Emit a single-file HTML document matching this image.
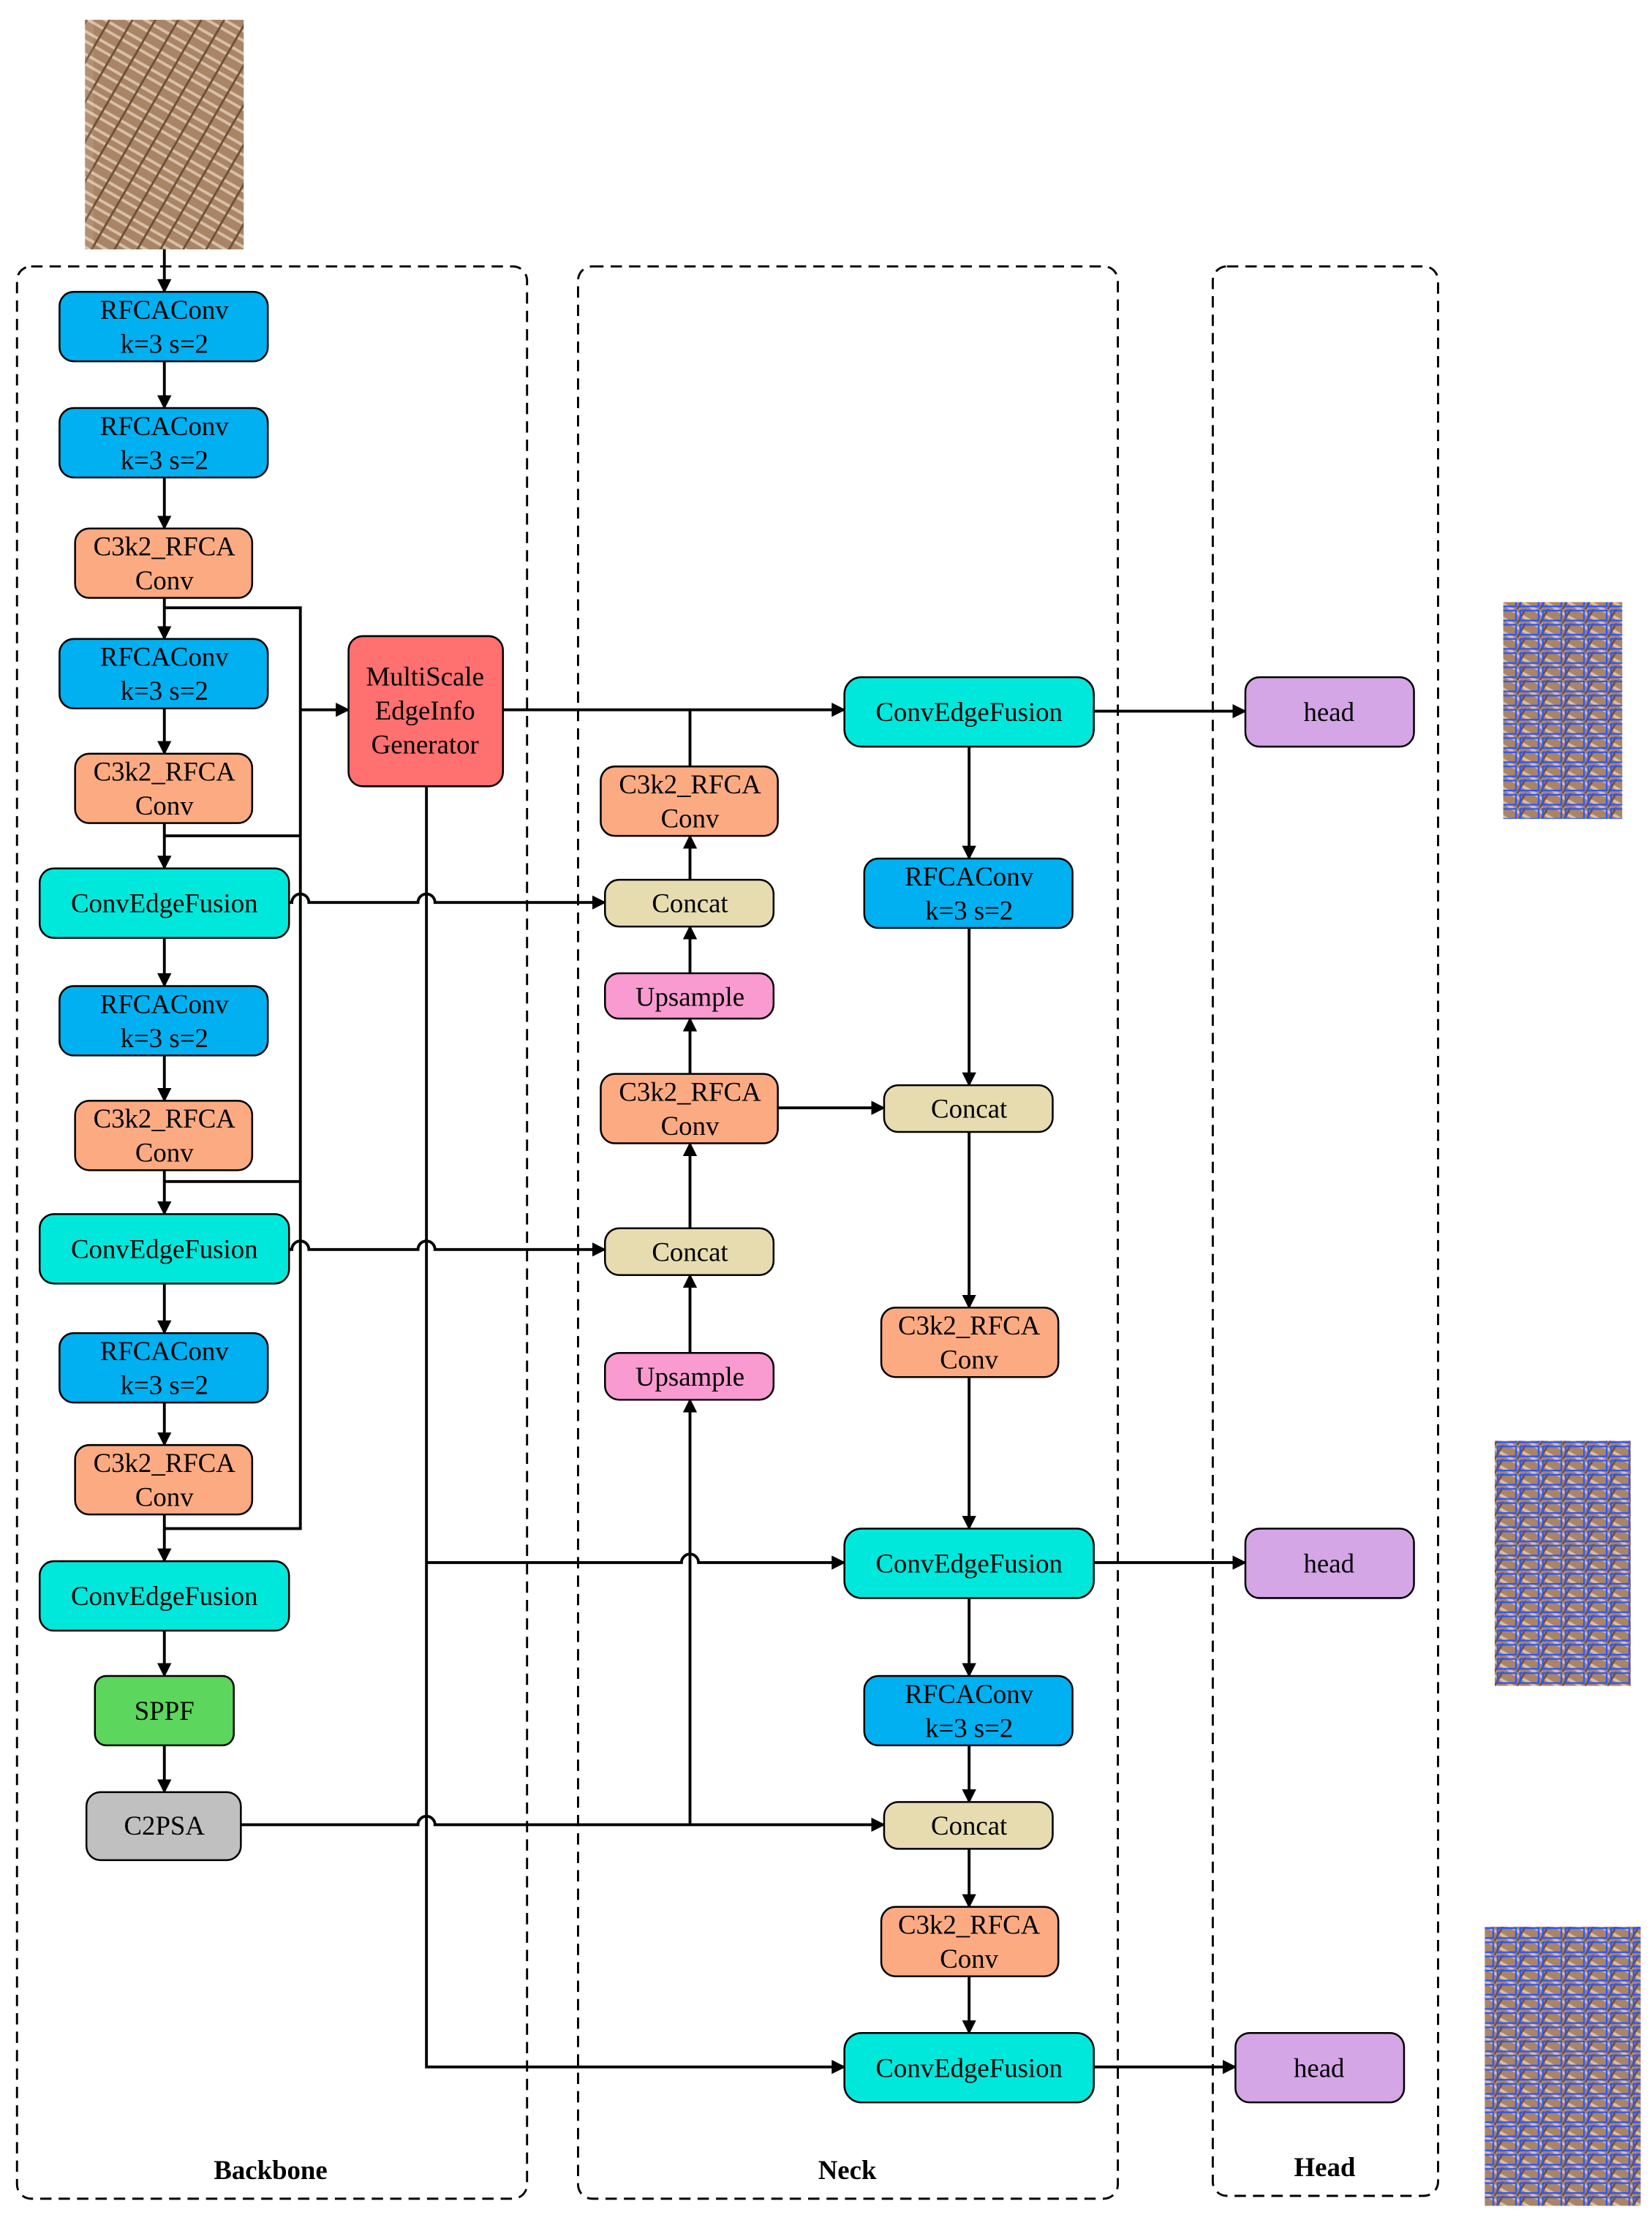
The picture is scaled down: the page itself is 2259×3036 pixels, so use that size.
<!DOCTYPE html>
<html><head><meta charset="utf-8"><style>
html,body{margin:0;padding:0;background:#fff}
svg{display:block}
text{font-family:"Liberation Serif",serif;font-size:19px;fill:#000}
</style></head><body>
<svg width="2259" height="3036" viewBox="0 0 1166 1567" xmlns="http://www.w3.org/2000/svg">
<defs>
<marker id="a" markerWidth="10" markerHeight="10" refX="9" refY="5" orient="auto" markerUnits="userSpaceOnUse"><path d="M0,0 L10,5 L0,10 z" fill="#000"/></marker>
<pattern id="straw" width="14" height="14" patternUnits="userSpaceOnUse" patternTransform="rotate(30)">
<rect width="14" height="14" fill="#a98466"/><path d="M0,3 H14 M0,9 H14" stroke="#d9c0a4" stroke-width="2"/><path d="M4,0 V14" stroke="#6e5038" stroke-width="1.5"/></pattern>
<pattern id="det" width="16" height="10" patternUnits="userSpaceOnUse">
<rect width="16" height="10" fill="url(#straw)"/><rect x="1" y="1" width="13" height="7" fill="none" stroke="#2a55ff" stroke-width="1.2"/></pattern>
</defs>
<!-- input image -->
<rect x="66" y="14" width="106" height="162" fill="url(#straw)"/>
<rect x="60" y="14" width="106" height="162" fill="url(#straw)" opacity="0.9"/>
<!-- output images -->
<rect x="1061" y="425" width="84" height="153" fill="url(#det)"/>
<rect x="1055" y="1017" width="96" height="173" fill="url(#det)"/>
<rect x="1048" y="1360" width="110" height="197" fill="url(#det)"/>
<!-- dashed boxes -->
<g fill="none" stroke="#000" stroke-width="1.5" stroke-dasharray="8,5">
<rect x="12" y="188" width="360" height="1364" rx="10"/>
<rect x="408" y="188" width="381" height="1364" rx="10"/>
<rect x="856" y="188" width="159" height="1362" rx="10"/>
</g>
<g font-weight="bold" text-anchor="middle">
<text x="191" y="1538" style="font-weight:bold">Backbone</text>
<text x="598" y="1538" style="font-weight:bold">Neck</text>
<text x="935" y="1536" style="font-weight:bold">Head</text>
</g>
<!-- connectors -->
<g fill="none" stroke="#000" stroke-width="2">
<path d="M116,176 V206" marker-end="url(#a)"/>
<path d="M116,255 V288" marker-end="url(#a)"/>
<path d="M116,337 V373" marker-end="url(#a)"/>
<path d="M116,422 V451" marker-end="url(#a)"/>
<path d="M116,500 V532" marker-end="url(#a)"/>
<path d="M116,581 V613" marker-end="url(#a)"/>
<path d="M116,662 V696" marker-end="url(#a)"/>
<path d="M116,745 V777" marker-end="url(#a)"/>
<path d="M116,826 V857" marker-end="url(#a)"/>
<path d="M116,906 V941" marker-end="url(#a)"/>
<path d="M116,990 V1020" marker-end="url(#a)"/>
<path d="M116,1069 V1102" marker-end="url(#a)"/>
<path d="M116,1151 V1183" marker-end="url(#a)"/>
<path d="M116,1232 V1265" marker-end="url(#a)"/>
<path d="M116,429 H212 V1079 H116"/>
<path d="M212,590 H116"/><path d="M212,834 H116"/>
<path d="M212,501 H246" marker-end="url(#a)"/>
<path d="M204,637 H206 a6,6 0 0 1 12,0 H295 a6,6 0 0 1 12,0 H427" marker-end="url(#a)"/>
<path d="M204,882 H206 a6,6 0 0 1 12,0 H295 a6,6 0 0 1 12,0 H427" marker-end="url(#a)"/>
<path d="M170,1288 H295 a6,6 0 0 1 12,0 H624" marker-end="url(#a)"/>
<path d="M487,1288 V988" marker-end="url(#a)"/>
<path d="M355,501 H596" marker-end="url(#a)"/>
<path d="M301,555 V1459 H596" marker-end="url(#a)"/>
<path d="M301,1103 H481 a6,6 0 0 1 12,0 H596" marker-end="url(#a)"/>
<path d="M487,541 V501"/>
<path d="M487,621 V590" marker-end="url(#a)"/>
<path d="M487,687 V654" marker-end="url(#a)"/>
<path d="M487,758 V719" marker-end="url(#a)"/>
<path d="M487,867 V807" marker-end="url(#a)"/>
<path d="M487,955 V900" marker-end="url(#a)"/>
<path d="M549,782 H624" marker-end="url(#a)"/>
<path d="M684,527 V606" marker-end="url(#a)"/>
<path d="M684,655 V766" marker-end="url(#a)"/>
<path d="M684,799 V923" marker-end="url(#a)"/>
<path d="M684,972 V1079" marker-end="url(#a)"/>
<path d="M684,1128 V1183" marker-end="url(#a)"/>
<path d="M684,1232 V1272" marker-end="url(#a)"/>
<path d="M684,1305 V1346" marker-end="url(#a)"/>
<path d="M684,1395 V1435" marker-end="url(#a)"/>
<path d="M772,502 H879" marker-end="url(#a)"/>
<path d="M772,1103 H879" marker-end="url(#a)"/>
<path d="M772,1459 H872" marker-end="url(#a)"/>
</g>
<!-- nodes -->
<g stroke="#000" stroke-width="1.3">
<rect x="42" y="206" width="147" height="49" rx="10" fill="#00b0f0"/>
<rect x="42" y="288" width="147" height="49" rx="10" fill="#00b0f0"/>
<rect x="53" y="373" width="125" height="49" rx="10" fill="#fbaa82"/>
<rect x="42" y="451" width="147" height="49" rx="10" fill="#00b0f0"/>
<rect x="53" y="532" width="125" height="49" rx="10" fill="#fbaa82"/>
<rect x="28" y="613" width="176" height="49" rx="10" fill="#00e8dc"/>
<rect x="42" y="696" width="147" height="49" rx="10" fill="#00b0f0"/>
<rect x="53" y="777" width="125" height="49" rx="10" fill="#fbaa82"/>
<rect x="28" y="857" width="176" height="49" rx="10" fill="#00e8dc"/>
<rect x="42" y="941" width="147" height="49" rx="10" fill="#00b0f0"/>
<rect x="53" y="1020" width="125" height="49" rx="10" fill="#fbaa82"/>
<rect x="28" y="1102" width="176" height="49" rx="10" fill="#00e8dc"/>
<rect x="67" y="1183" width="98" height="49" rx="8" fill="#5cd65c"/>
<rect x="61" y="1265" width="109" height="48" rx="10" fill="#c0c0c0"/>
<rect x="246" y="449" width="109" height="106" rx="10" fill="#ff7070"/>
<rect x="424" y="541" width="125" height="49" rx="10" fill="#fbaa82"/>
<rect x="427" y="621" width="119" height="33" rx="10" fill="#e6dcb0"/>
<rect x="427" y="687" width="119" height="32" rx="10" fill="#f99ad0"/>
<rect x="424" y="758" width="125" height="49" rx="10" fill="#fbaa82"/>
<rect x="427" y="867" width="119" height="33" rx="10" fill="#e6dcb0"/>
<rect x="427" y="955" width="119" height="33" rx="10" fill="#f99ad0"/>
<rect x="596" y="478" width="176" height="49" rx="12" fill="#00e8dc"/>
<rect x="610" y="606" width="147" height="49" rx="10" fill="#00b0f0"/>
<rect x="624" y="766" width="119" height="33" rx="10" fill="#e6dcb0"/>
<rect x="622" y="923" width="125" height="49" rx="10" fill="#fbaa82"/>
<rect x="596" y="1079" width="176" height="49" rx="12" fill="#00e8dc"/>
<rect x="610" y="1183" width="147" height="49" rx="10" fill="#00b0f0"/>
<rect x="624" y="1272" width="119" height="33" rx="10" fill="#e6dcb0"/>
<rect x="622" y="1346" width="125" height="49" rx="10" fill="#fbaa82"/>
<rect x="596" y="1435" width="176" height="49" rx="12" fill="#00e8dc"/>
<rect x="879" y="478" width="119" height="49" rx="10" fill="#d4a6e6"/>
<rect x="879" y="1079" width="119" height="49" rx="10" fill="#d4a6e6"/>
<rect x="872" y="1435" width="119" height="49" rx="10" fill="#d4a6e6"/>
</g>
<g text-anchor="middle">
<text x="116" y="225">RFCAConv</text><text x="116" y="249">k=3 s=2</text>
<text x="116" y="307">RFCAConv</text><text x="116" y="331">k=3 s=2</text>
<text x="116" y="392">C3k2_RFCA</text><text x="116" y="416">Conv</text>
<text x="116" y="470">RFCAConv</text><text x="116" y="494">k=3 s=2</text>
<text x="116" y="551">C3k2_RFCA</text><text x="116" y="575">Conv</text>
<text x="116" y="644">ConvEdgeFusion</text>
<text x="116" y="715">RFCAConv</text><text x="116" y="739">k=3 s=2</text>
<text x="116" y="796">C3k2_RFCA</text><text x="116" y="820">Conv</text>
<text x="116" y="888">ConvEdgeFusion</text>
<text x="116" y="960">RFCAConv</text><text x="116" y="984">k=3 s=2</text>
<text x="116" y="1039">C3k2_RFCA</text><text x="116" y="1063">Conv</text>
<text x="116" y="1133">ConvEdgeFusion</text>
<text x="116" y="1214">SPPF</text>
<text x="116" y="1295">C2PSA</text>
<text x="300" y="484">MultiScale</text><text x="300" y="508">EdgeInfo</text><text x="300" y="532">Generator</text>
<text x="487" y="560">C3k2_RFCA</text><text x="487" y="584">Conv</text>
<text x="487" y="644">Concat</text>
<text x="487" y="710">Upsample</text>
<text x="487" y="777">C3k2_RFCA</text><text x="487" y="801">Conv</text>
<text x="487" y="890">Concat</text>
<text x="487" y="978">Upsample</text>
<text x="684" y="509">ConvEdgeFusion</text>
<text x="684" y="625">RFCAConv</text><text x="684" y="649">k=3 s=2</text>
<text x="684" y="789">Concat</text>
<text x="684" y="942">C3k2_RFCA</text><text x="684" y="966">Conv</text>
<text x="684" y="1110">ConvEdgeFusion</text>
<text x="684" y="1202">RFCAConv</text><text x="684" y="1226">k=3 s=2</text>
<text x="684" y="1295">Concat</text>
<text x="684" y="1365">C3k2_RFCA</text><text x="684" y="1389">Conv</text>
<text x="684" y="1466">ConvEdgeFusion</text>
<text x="938" y="509">head</text>
<text x="938" y="1110">head</text>
<text x="931" y="1466">head</text>
</g>
</svg>
</body></html>
